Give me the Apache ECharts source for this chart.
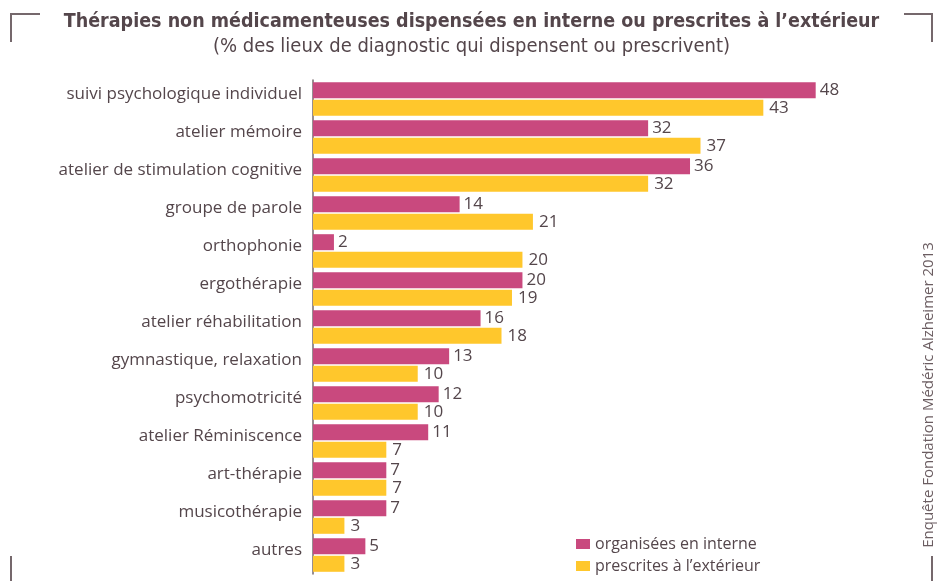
<!DOCTYPE html>
<html>
<head>
<meta charset="utf-8">
<script src="https://cdn.jsdelivr.net/npm/echarts@6/dist/echarts.min.js"></script>
<style>
  html, body { margin: 0; padding: 0; background: #fff; }
  #chart { width: 943px; height: 581px; }
</style>
</head>
<body>
<div id="chart"></div>
<script>
var categories = [
    'suivi psychologique individuel', 'atelier mémoire', 'atelier de stimulation cognitive',
    'groupe de parole', 'orthophonie', 'ergothérapie', 'atelier réhabilitation',
    'gymnastique, relaxation', 'psychomotricité', 'atelier Réminiscence',
    'art-thérapie', 'musicothérapie', 'autres'
];
var interneValues = [48, 32, 36, 14, 2, 20, 16, 13, 12, 11, 7, 7, 5];
var exterieurValues = [43, 37, 32, 21, 20, 19, 18, 10, 10, 7, 7, 3, 3];
var seriesNames = ['organisées en interne', 'prescrites à l’extérieur'];

var textColor = '#54464b';
var lineColor = '#75686c';

var chart = echarts.init(document.getElementById('chart'), null, {renderer: 'canvas'});

chart.setOption({
    backgroundColor: '#fff',
    animation: false,
    title: {
        text: 'Thérapies non médicamenteuses dispensées en interne ou prescrites à l’extérieur',
        subtext: '(% des lieux de diagnostic qui dispensent ou prescrivent)',
        left: 'center',
        top: 7,
        itemGap: 5,
        textStyle: {
            fontFamily: '"DejaVu Sans Condensed", "DejaVu Sans", sans-serif',
            fontWeight: 'bold',
            fontSize: 19.5,
            color: textColor
        },
        subtextStyle: {
            fontFamily: '"DejaVu Sans Condensed", "DejaVu Sans", sans-serif',
            fontSize: 20,
            color: textColor
        }
    },
    legend: {
        data: seriesNames,
        orient: 'vertical',
        left: 571,
        top: 531,
        itemWidth: 14,
        itemHeight: 10,
        itemGap: 6,
        icon: 'rect',
        textStyle: {
            fontFamily: '"Open Sans", sans-serif',
            fontSize: 16,
            color: textColor
        }
    },
    grid: {
        left: 313,
        top: 80,
        width: 576,
        height: 494,
        containLabel: false
    },
    xAxis: {
        type: 'value',
        min: 0,
        max: 55,
        show: false
    },
    yAxis: {
        type: 'category',
        data: categories,
        inverse: true,
        axisLine: {show: true, lineStyle: {color: lineColor, width: 1.5}},
        axisTick: {show: false},
        axisLabel: {
            margin: 11,
            verticalAlign: 'bottom',
            lineHeight: 10,
            fontFamily: '"Open Sans", sans-serif',
            fontSize: 17,
            color: textColor
        }
    },
    series: [
        {
            name: seriesNames[0],
            type: 'bar',
            data: interneValues,
            barWidth: 16,
            barGap: '10%',
            itemStyle: {color: '#c9497e'},
            label: {
                show: true,
                position: 'right',
                distance: 4,
                fontFamily: '"Open Sans", sans-serif',
                fontSize: 17,
                color: textColor
            }
        },
        {
            name: seriesNames[1],
            type: 'bar',
            data: exterieurValues,
            barWidth: 16,
            barGap: '10%',
            itemStyle: {color: '#ffc72c'},
            label: {
                show: true,
                position: 'right',
                distance: 6,
                fontFamily: '"Open Sans", sans-serif',
                fontSize: 17,
                color: textColor
            }
        }
    ],
    graphic: [
        // corner brackets
        {type: 'polyline', shape: {points: [[11, 42], [11, 14], [40, 14]]},
            style: {stroke: lineColor, lineWidth: 2, fill: null}},
        {type: 'polyline', shape: {points: [[904, 14], [932, 14], [932, 42]]},
            style: {stroke: lineColor, lineWidth: 2, fill: null}},
        {type: 'line', shape: {x1: 11, y1: 556, x2: 11, y2: 581},
            style: {stroke: lineColor, lineWidth: 2}},
        {type: 'line', shape: {x1: 932, y1: 556, x2: 932, y2: 581},
            style: {stroke: lineColor, lineWidth: 2}},
        {
            type: 'text',
            x: 929,
            y: 395,
            rotation: Math.PI / 2,
            style: {
                text: 'Enquête Fondation Médéric Alzheimer 2013',
                fontFamily: '"Open Sans", sans-serif',
                fontSize: 15,
                fill: '#6b5d61',
                align: 'center',
                verticalAlign: 'middle'
            }
        }
    ]
});
</script>
</body>
</html>
